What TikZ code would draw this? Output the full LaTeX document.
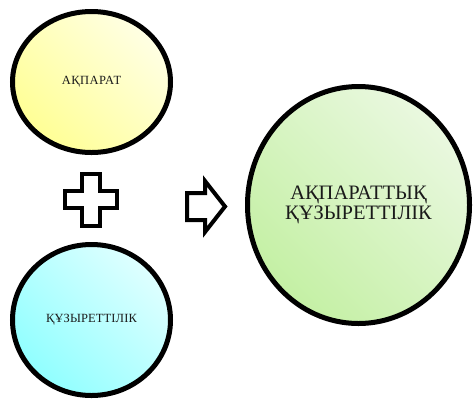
\documentclass[tikz,border=0pt]{standalone}
\usepackage{fontspec}
\setmainfont{Liberation Serif}
\usetikzlibrary{shapes.geometric}
\definecolor{ylo}{HTML}{FFFF95}
\definecolor{yhi}{HTML}{FFFFE4}
\definecolor{clo}{HTML}{90FFFF}
\definecolor{chi}{HTML}{DFFFFF}
\definecolor{glo}{HTML}{C4F0A4}
\definecolor{ghi}{HTML}{EAF8E0}
\definecolor{txt}{HTML}{1A1A1A}
\tikzset{
  blob/.style={ellipse, draw=black, line width=5pt, inner sep=0pt, text=txt, align=center},
  symb/.style={draw=black, line width=4pt, fill=white, line join=miter},
}
\begin{document}
\begin{tikzpicture}[x=1pt,y=-1pt]
\useasboundingbox (0,0) rectangle (473,400);
\node[blob, minimum width=158pt, minimum height=141pt,
  bottom color=ylo, top color=yhi, shading angle=-45, draw=black,
  font=\fontsize{12.5}{14}\selectfont\addfontfeature{LetterSpace=4}] (info) at (91.5,82) {АҚПАРАТ};
\node[blob, minimum width=158pt, minimum height=151pt,
  bottom color=clo, top color=chi, shading angle=-45, draw=black,
  font=\fontsize{12.5}{14}\selectfont\addfontfeature{LetterSpace=1}] (comp) at (91.5,320) {ҚҰЗЫРЕТТІЛІК};
\node[blob, minimum width=222pt, minimum height=237pt,
  bottom color=glo, top color=ghi, shading angle=-45, draw=black,
  font=\fontsize{20.5}{20}\selectfont] (res) at (358.5,205) {АҚПАРАТТЫҚ\\ҚҰЗЫРЕТТІЛІК};
% plus sign
\draw[symb] (82,174) -- (100,174) -- (100,191) -- (117,191) -- (117,208) -- (100,208)
  -- (100,226) -- (82,226) -- (82,208) -- (65,208) -- (65,191) -- (82,191) -- cycle;
% arrow
\draw[symb] (187,193) -- (205,193) -- (205,181) -- (225,206.5) -- (205,232)
  -- (205,220) -- (187,220) -- cycle;
\end{tikzpicture}
\end{document}
